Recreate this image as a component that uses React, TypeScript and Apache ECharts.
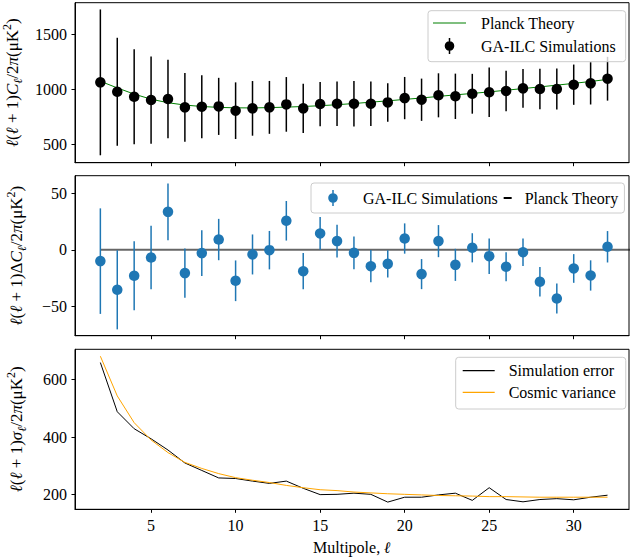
import { useEffect, useRef } from 'react';
import * as echarts from 'echarts';

const FONT = "'Liberation Serif', 'Times New Roman', 'DejaVu Serif', serif";

// Multipoles
const ells = [2, 3, 4, 5, 6, 7, 8, 9, 10, 11, 12, 13, 14, 15, 16, 17, 18, 19, 20, 21, 22, 23, 24, 25, 26, 27, 28, 29, 30, 31, 32];

// Panel 1: GA-ILC simulation mean and Planck theory (μK²)
const simMean = [1063, 978, 933, 903, 912, 837, 843, 846, 807, 828, 837, 864, 828, 867, 870, 870, 870, 882, 921, 906, 946, 937, 960, 973, 985, 1009, 1003, 1003, 1042, 1054, 1096];
const planckTheory = [1073, 1013, 957, 911, 879, 858, 845, 837, 833, 832, 835, 839, 845, 852, 861, 872, 884, 896, 909, 922, 936, 950, 963, 977, 992, 1007, 1022, 1038, 1054, 1071, 1090];

// Panel 2: residuals and their errors
const delta = [-10.0, -35.4, -23.0, -6.8, 33.6, -20.6, -2.9, 9.1, -27.4, -4.1, -0.3, 25.7, -18.9, 14.5, 7.7, -2.7, -14.5, -12.4, 10.0, -21.5, 7.7, -13.3, 1.8, -5.6, -15.0, -2.1, -28.3, -43.1, -16.5, -22.7, 2.7];
const deltaErr = [46.7, 35.0, 30.5, 28.0, 25.2, 21.8, 20.2, 18.3, 18.0, 17.7, 17.0, 17.5, 16.0, 14.5, 14.5, 14.6, 14.3, 12.0, 13.4, 13.3, 14.2, 14.2, 12.9, 15.7, 12.8, 12.2, 13.0, 13.3, 12.7, 13.4, 13.9];
const zeroLineX = [2, 34];
const zeroLineY = [0, 0];

// Panel 3: simulation error (also the error bars of panel 1) and cosmic variance
const simError = [659, 488, 429, 394, 355, 310, 284, 258, 256, 247, 239, 247, 222, 200, 201, 205, 201, 174, 191, 191, 199, 205, 180, 224, 183, 175, 183, 186, 182, 191, 198];
const cosmicVariance = [681, 543, 450, 390, 346, 312, 291, 273, 259, 250, 242, 232, 224, 217, 214, 209, 206, 203, 201, 199, 197, 196, 195, 193, 193, 192, 191, 191, 191, 191, 191];

// Ticks
const xTicks = [5, 10, 15, 20, 25, 30];
const yTicks1 = [500, 1000, 1500];
const yTicks2 = [-50, 0, 50];
const yTicks3 = [200, 400, 600];

const BLUE = '#1f77b4';

const speck = (w: number, h: number) =>
  `M0,0h0.01v0.01h-0.01Z M${w - 0.01},${h - 0.01}h0.01v0.01h-0.01Z`;
const lineIcon = (w: number, h: number) =>
  `path://${speck(w, h)} M0,${h / 2 - 0.6}H${w}V${h / 2 + 0.6}H0Z`;
const errIcon = (w: number, h: number) => {
  const c = w / 2;
  const r = 4.8;
  return `path://${speck(w, h)} M${c - 0.75},0H${c + 0.75}V${h}H${c - 0.75}Z M${c - r},${h / 2}A${r},${r} 0 1,1 ${c + r},${h / 2}A${r},${r} 0 1,1 ${c - r},${h / 2}Z`;
};
const dashIcon = (w: number, h: number, x0: number, x1: number) =>
  `path://${speck(w, h)} M${x0},${h / 2 - 1}H${x1}V${h / 2 + 1}H${x0}Z`;

const errorBars = (color: string) => (params: any, api: any) => {
  const x = api.value(0);
  const y = api.value(1);
  const e = api.value(2);
  const a = api.coord([x, y + e]);
  const b = api.coord([x, y - e]);
  return {
    type: 'line',
    shape: { x1: a[0], y1: a[1], x2: b[0], y2: b[1] },
    style: { stroke: color, lineWidth: 1.5 },
  };
};

const tickStyle = { color: '#000', width: 1 };

function xAxis(i: number) {
  return {
    type: 'value',
    gridIndex: i,
    min: 0.5,
    max: 33.27,
    axisLine: { show: true, onZero: false, lineStyle: tickStyle },
    axisTick: { show: true, length: 3.5, lineStyle: tickStyle, customValues: xTicks },
    axisLabel: {
      show: i === 2,
      customValues: xTicks,
      margin: 8,
      fontFamily: FONT,
      fontSize: 16,
      color: '#000',
    },
    splitLine: { show: false },
    ...(i === 2
      ? {
          name: 'Multipole, {l|ℓ}',
          nameLocation: 'middle',
          nameGap: 30,
          nameTextStyle: {
            fontFamily: FONT,
            fontSize: 16,
            color: '#000',
            rich: { l: { fontFamily: FONT, fontSize: 16, fontStyle: 'italic', fontWeight: 'bold', color: '#000' } },
          },
        }
      : {}),
  };
}

const nameRich = {
  l: { fontFamily: FONT, fontSize: 17, fontStyle: 'italic', color: '#000', lineHeight: 23 },
  i: { fontFamily: FONT, fontSize: 17, fontStyle: 'italic', color: '#000', lineHeight: 23 },
  s: { fontFamily: FONT, fontSize: 12, fontStyle: 'italic', color: '#000', lineHeight: 11, verticalAlign: 'bottom' },
  p: { fontFamily: FONT, fontSize: 12, color: '#000', lineHeight: 13, verticalAlign: 'top' },
};

function yAxis(i: number, min: number, max: number, ticks: number[], name: string) {
  return {
    type: 'value',
    gridIndex: i,
    min,
    max,
    axisLine: { show: true, onZero: false, lineStyle: tickStyle },
    axisTick: { show: true, length: 3.5, lineStyle: tickStyle, customValues: ticks },
    axisLabel: {
      customValues: ticks,
      margin: 8,
      fontFamily: FONT,
      fontSize: 16,
      color: '#000',
      formatter: (v: number) => (v < 0 ? '\u2212' + Math.abs(v) : String(v)),
    },
    splitLine: { show: false },
    name,
    nameLocation: 'middle',
    nameRotate: 90,
    nameGap: 47,
    nameTextStyle: { fontFamily: FONT, fontSize: 17, color: '#000', lineHeight: 23, rich: nameRich },
  };
}

const legendBase = {
  backgroundColor: 'rgba(255,255,255,0.8)',
  borderColor: '#cccccc',
  borderWidth: 1,
  borderRadius: 3,
  itemStyle: { borderWidth: 0 },
  selectedMode: false,
  symbolKeepAspect: true,
};

const displayNames: Record<string, string> = {
  'GA-ILC Simulations': 'GA-ILC Simulations',
  'Planck Theory': 'Planck Theory',
  'dGA': 'GA-ILC Simulations',
  'dPlanck': 'Planck Theory',
  'Simulation error': 'Simulation error',
  'Cosmic variance': 'Cosmic variance',
};

const gridBase = {
  left: 75,
  width: 554,
  height: 160,
  show: true,
  borderColor: '#000',
  borderWidth: 1,
  backgroundColor: 'transparent',
  containLabel: false,
  outerBoundsMode: 'none',
};

const option: any = {
  animation: false,
  backgroundColor: '#ffffff',
  textStyle: { fontFamily: FONT },
  grid: [
    { ...gridBase, top: 2.7 },
    { ...gridBase, top: 175.7 },
    { ...gridBase, top: 349.3 },
  ],
  xAxis: [xAxis(0), xAxis(1), xAxis(2)],
  yAxis: [
    yAxis(0, 337, 1783, yTicks1, '{l|ℓ}({l|ℓ} + 1){i|C}{s|ℓ}/2{i|π}(μK{p|2})'),
    yAxis(1, -76, 65.6, yTicks2, '{l|ℓ}({l|ℓ} + 1)Δ{i|C}{s|ℓ}/2{i|π}(μK{p|2})'),
    yAxis(2, 149, 705, yTicks3, '{l|ℓ}({l|ℓ} + 1){i|σ}{s|ℓ}/2{i|π}(μK{p|2})'),
  ],
  legend: [
    {
      ...legendBase,
      orient: 'vertical',
      left: 428,
      top: 10.7,
      padding: [4.3, 10, 7.7, 5],
      itemWidth: 33,
      itemHeight: 16,
      itemGap: 7,
      formatter: (n: string) => displayNames[n],
      textStyle: { fontFamily: FONT, fontSize: 16, color: '#000', padding: [0, 0, 0, 10] },
      data: [
        { name: 'Planck Theory', icon: lineIcon(33, 16), itemStyle: { color: '#008000' } },
        { name: 'GA-ILC Simulations', icon: errIcon(33, 16), itemStyle: { color: '#000000' } },
      ],
    },
    {
      ...legendBase,
      orient: 'horizontal',
      left: 311,
      top: 183,
      padding: [7, 6, 7, 6],
      itemWidth: 32,
      itemHeight: 16,
      itemGap: -14,
      formatter: (n: string) => displayNames[n],
      textStyle: { fontFamily: FONT, fontSize: 16, color: '#000', padding: [0, 0, 0, 9] },
      data: [
        { name: 'dGA', icon: errIcon(32, 16), itemStyle: { color: BLUE } },
        {
          name: 'dPlanck',
          icon: dashIcon(32, 16, 20, 28),
          itemStyle: { color: '#000000' },
          textStyle: { fontFamily: FONT, fontSize: 16, color: '#000', padding: [0, 0, 0, 4] },
        },
      ],
    },
    {
      ...legendBase,
      orient: 'vertical',
      left: 455.7,
      top: 357.3,
      padding: [5.4, 10, 8.7, 7],
      itemWidth: 32,
      itemHeight: 16,
      itemGap: 5.6,
      formatter: (n: string) => displayNames[n],
      textStyle: { fontFamily: FONT, fontSize: 16, color: '#000', padding: [0, 0, 0, 9] },
      data: [
        { name: 'Simulation error', icon: lineIcon(32, 16), itemStyle: { color: '#000000' } },
        { name: 'Cosmic variance', icon: lineIcon(32, 16), itemStyle: { color: '#ffa500' } },
      ],
    },
  ],
  series: [
    {
      name: 'Planck Theory',
      type: 'line',
      xAxisIndex: 0,
      yAxisIndex: 0,
      data: ells.map((l, i) => [l, planckTheory[i]]),
      symbol: 'none',
      lineStyle: { color: '#008000', width: 1 },
      itemStyle: { color: '#008000' },
      z: 2,
    },
    {
      name: 'GA-ILC Simulations',
      type: 'custom',
      xAxisIndex: 0,
      yAxisIndex: 0,
      data: ells.map((l, i) => [l, simMean[i], simError[i]]),
      renderItem: errorBars('#000000'),
      encode: { x: 0, y: [1] },
      itemStyle: { color: '#000000' },
      z: 3,
    },
    {
      name: 'GA-ILC Simulations',
      type: 'scatter',
      xAxisIndex: 0,
      yAxisIndex: 0,
      data: ells.map((l, i) => [l, simMean[i]]),
      symbolSize: 10.5,
      itemStyle: { color: '#000000', opacity: 1 },
      z: 4,
    },
    {
      name: 'dPlanck',
      type: 'line',
      xAxisIndex: 1,
      yAxisIndex: 1,
      data: zeroLineX.map((x, i) => [x, zeroLineY[i]]),
      symbol: 'none',
      clip: true,
      lineStyle: { color: 'rgba(0,0,0,0.6)', width: 2 },
      itemStyle: { color: '#000000' },
      z: 2,
    },
    {
      name: 'dGA',
      type: 'custom',
      xAxisIndex: 1,
      yAxisIndex: 1,
      data: ells.map((l, i) => [l, delta[i], deltaErr[i]]),
      renderItem: errorBars(BLUE),
      encode: { x: 0, y: [1] },
      itemStyle: { color: BLUE },
      z: 3,
    },
    {
      name: 'dGA',
      type: 'scatter',
      xAxisIndex: 1,
      yAxisIndex: 1,
      data: ells.map((l, i) => [l, delta[i]]),
      symbolSize: 10.5,
      itemStyle: { color: BLUE, opacity: 1 },
      z: 4,
    },
    {
      name: 'Simulation error',
      type: 'line',
      xAxisIndex: 2,
      yAxisIndex: 2,
      data: ells.map((l, i) => [l, simError[i]]),
      symbol: 'none',
      lineStyle: { color: '#000000', width: 1 },
      itemStyle: { color: '#000000' },
      z: 2,
    },
    {
      name: 'Cosmic variance',
      type: 'line',
      xAxisIndex: 2,
      yAxisIndex: 2,
      data: ells.map((l, i) => [l, cosmicVariance[i]]),
      symbol: 'none',
      lineStyle: { color: '#ffa500', width: 1 },
      itemStyle: { color: '#ffa500' },
      z: 3,
    },
  ],
};

export default function App() {
  const ref = useRef<HTMLDivElement>(null);
  useEffect(() => {
    const chart = echarts.init(ref.current!, null, { renderer: 'svg' });
    chart.setOption(option);
    return () => chart.dispose();
  }, []);
  return (
    <div
      ref={ref}
      style={{ position: 'absolute', left: 0, top: 0, width: 630, height: 559, background: '#fff' }}
    />
  );
}
